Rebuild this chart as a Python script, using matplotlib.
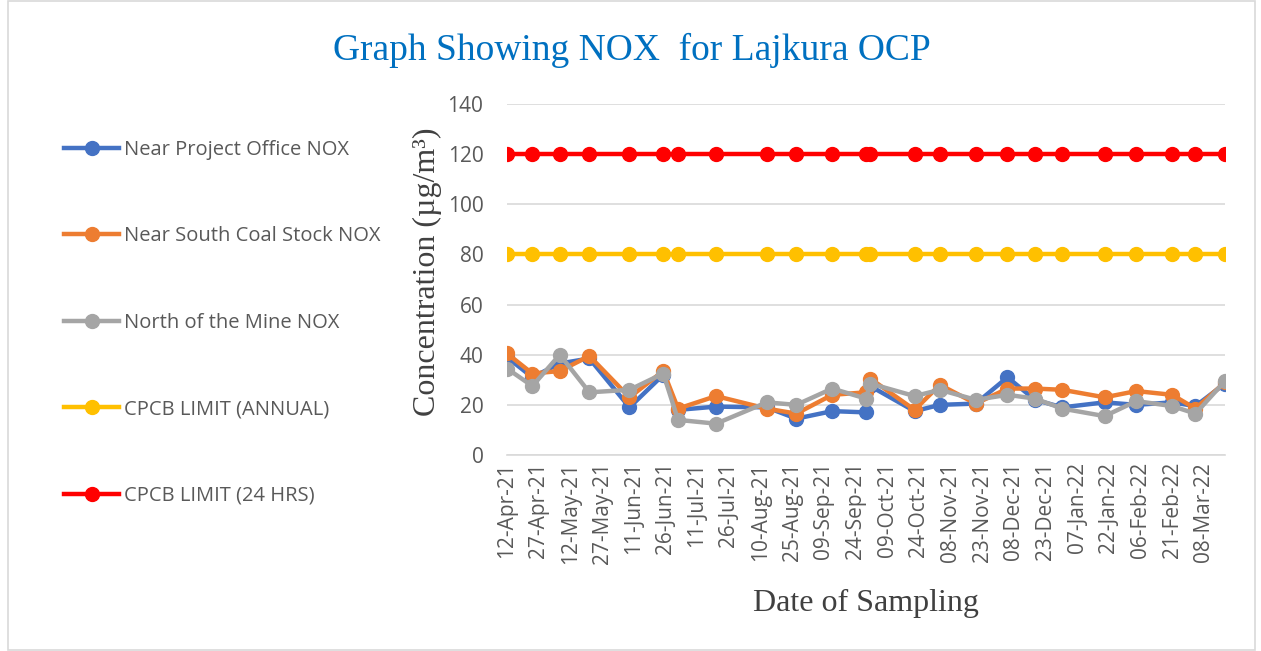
import matplotlib.pyplot as plt
import matplotlib.patches as mpatches
import numpy as np
import pandas as pd

# sampling dates
dates = ["12-Apr-21", "24-Apr-21", "07-May-21", "21-May-21", "09-Jun-21", "25-Jun-21",
         "02-Jul-21", "20-Jul-21", "13-Aug-21", "27-Aug-21", "13-Sep-21", "29-Sep-21",
         "01-Oct-21", "22-Oct-21", "03-Nov-21", "20-Nov-21", "05-Dec-21", "18-Dec-21",
         "31-Dec-21", "20-Jan-22", "04-Feb-22", "21-Feb-22", "04-Mar-22", "18-Mar-22"]

project_office = [39, 31, 36.5, 38.5, 19, 32, 18, 19.3, 19, 14.5, 17.5, 17,
                  27.5, 17.5, 20, 20.5, 31, 22, 19, 21, 20, 21, 19.5, 28.5]
south_coal = [40.5, 32.5, 33.5, 39.5, 23, 33.5, 18.5, 23.5, 18.5, 16.5, 24, 25,
              30.5, 18, 28, 20.5, 26.5, 26.5, 26, 23, 25.5, 24, 18.5, 29]
north_mine = [34.5, 27.5, 40, 25, 26, 32.5, 14, 12.5, 21, 20, 26.5, 22.5,
              28.5, 23.5, 26, 22, 24, 22.5, 18.5, 15.5, 21.5, 19.5, 16.5, 29.5]
limit_annual = [80] * len(dates)
limit_24h = [120] * len(dates)

labels = ["Near Project Office NOX", "Near South Coal Stock NOX", "North of the Mine NOX",
          "CPCB LIMIT (ANNUAL)", "CPCB LIMIT (24 HRS)"]
colors = ["#4472C4", "#ED7D31", "#A5A5A5", "#FFC000", "#FF0000"]

x = pd.to_datetime(dates, format="%d-%b-%y")

fig = plt.figure(figsize=(12.61, 6.51), dpi=100)
ax = fig.add_axes([507 / 1261, 1 - 455 / 651, (1225 - 507) / 1261, (455 - 104) / 651])

series = [project_office, south_coal, north_mine, limit_annual, limit_24h]
for vals, lab, c in zip(series, labels, colors):
    ax.plot(x, vals, color=c, lw=3.2, marker='o', ms=10, label=lab)

ax.set_ylim(0, 140)
ax.set_yticks(np.arange(0, 141, 20))
ax.set_xlim(x[0], x[-1])
ticks = pd.date_range(x[0], x[-1], freq="15D")
ax.set_xticks(ticks)
ax.set_xticklabels([t.strftime("%d-%b-%y") for t in ticks], rotation=90)
ax.tick_params(axis='both', length=0, labelsize=15, labelcolor="#595959")
ax.tick_params(axis='y', pad=17)
ax.tick_params(axis='x', pad=5)
for lab in ax.get_xticklabels() + ax.get_yticklabels():
    lab.set_family("Open Sans")
ax.grid(axis='y', color="#D9D9D9", lw=1.2)
ax.set_axisbelow(True)
for s in ["top", "right", "left"]:
    ax.spines[s].set_visible(False)
ax.spines["bottom"].set_color("#D9D9D9")
ax.spines["bottom"].set_linewidth(1.2)

fig.text(427 / 1261, 1 - 272 / 651, "Concentration (µg/m³)", ha='center', va='center',
         rotation=90, family="Liberation Serif", fontsize=23, color="#404040")
fig.text(866 / 1261, 1 - 603 / 651, "Date of Sampling", ha='center', va='center',
         family="Liberation Serif", fontsize=23, color="#404040")

fig.text(632 / 1261, 1 - 50 / 651, "Graph Showing NOX  for Lajkura OCP", ha='center', va='center',
         family="Liberation Serif", fontsize=27, color="#0070C0")

leg = fig.legend(loc='upper left', bbox_to_anchor=(64 / 1261, 1 - 140 / 651), frameon=False,
                 borderaxespad=0, borderpad=0,
                 handlelength=2.75, handletextpad=0.25, labelspacing=3.3,
                 prop={'family': 'Open Sans', 'size': 14.5})
for t in leg.get_texts():
    t.set_color("#595959")

fig.patches.append(mpatches.Rectangle((8 / 1261, 0.002), 1247 / 1261, 0.996,
                                      transform=fig.transFigure, fill=False,
                                      edgecolor="#D9D9D9", lw=1.2))

fig.savefig("out.png", dpi=100)
